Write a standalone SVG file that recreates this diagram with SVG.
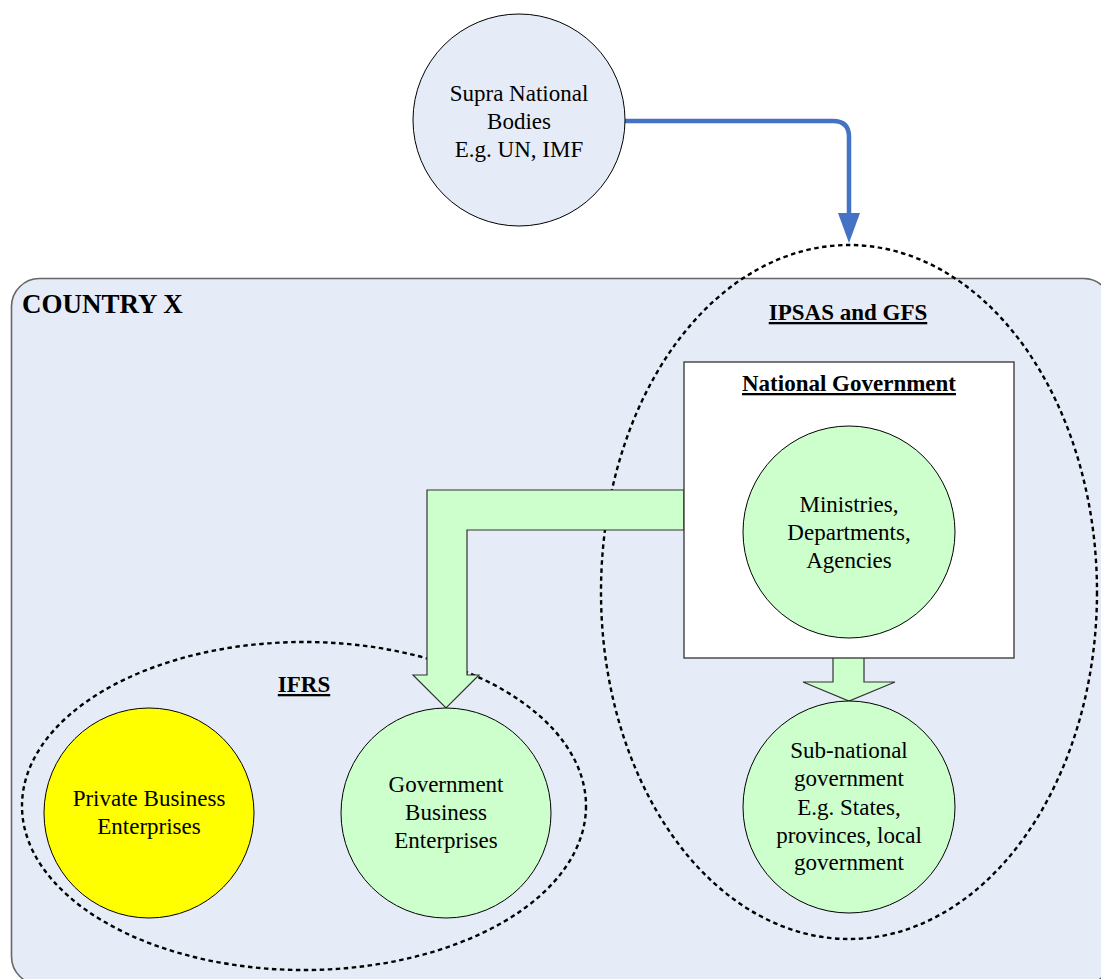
<svg xmlns="http://www.w3.org/2000/svg" width="1101" height="979" viewBox="0 0 1101 979">
  <style>
    .txt { font-family: "Liberation Serif", "Times New Roman", serif; font-size: 23px; fill: #000; text-anchor: middle; }
    .hdr { font-family: "Liberation Serif", "Times New Roman", serif; font-size: 23px; font-weight: bold; text-decoration: underline; fill: #000; text-anchor: middle; }
    .node { stroke: #000; stroke-width: 1; }
    .green { fill: #CCFFCC; }
    .zone { fill: none; stroke: #000; stroke-width: 2.4; stroke-dasharray: 4.5 3.5; }
    .fat { fill: #CCFFCC; stroke: #333; stroke-width: 1.2; }
  </style>

  <rect width="1101" height="979" fill="#FFFFFF"/>

  <!-- country container -->
  <g id="country">
    <rect x="11.5" y="278.5" width="1100" height="706" rx="28" ry="28" fill="#E6ECF7" stroke="#666" stroke-width="1.6"/>
    <text x="22" y="313" style="font-family:'Liberation Serif','Times New Roman',serif;font-size:27px;font-weight:bold;">COUNTRY X</text>
  </g>

  <!-- standards zones -->
  <g id="zone-ipsas">
    <ellipse class="zone" cx="849" cy="592" rx="248" ry="347"/>
    <text class="hdr" x="848" y="320">IPSAS and GFS</text>
  </g>
  <g id="zone-ifrs">
    <ellipse class="zone" cx="304" cy="806" rx="282" ry="164"/>
    <text class="hdr" x="304" y="692">IFRS</text>
  </g>

  <!-- connectors -->
  <g id="connectors">
    <path d="M623,121 L833,121 Q849,121 849,137 L849,213" fill="none" stroke="#4472C4" stroke-width="4.5" stroke-linejoin="round"/>
    <path d="M838,213 L860,213 L849,243 Z" fill="#4472C4"/>
    <path class="fat" d="M684,490 L427,490 L427,675 L413,675 L446,708 L479,675 L467,675 L467,530 L684,530 Z"/>
    <path class="fat" d="M833,655 L833,682 L803,682 L849,701 L895,682 L864,682 L864,655 Z"/>
  </g>

  <!-- supra national bodies -->
  <g id="supra">
    <circle class="node" cx="519" cy="120" r="106" fill="#E6ECF7"/>
    <text class="txt" x="519" y="101">Supra National</text>
    <text class="txt" x="519" y="129">Bodies</text>
    <text class="txt" x="519" y="157">E.g. UN, IMF</text>
  </g>

  <!-- national government -->
  <g id="national">
    <rect x="684" y="362" width="330" height="296" fill="#FFFFFF" stroke="#333" stroke-width="1.3"/>
    <text class="hdr" x="849" y="391">National Government</text>
  </g>
  <g id="ministries">
    <circle class="node green" cx="849" cy="532" r="106"/>
    <text class="txt" x="849" y="512">Ministries,</text>
    <text class="txt" x="849" y="540">Departments,</text>
    <text class="txt" x="849" y="568">Agencies</text>
  </g>
  <g id="subnational">
    <circle class="node green" cx="849" cy="807" r="106"/>
    <text class="txt" x="849" y="758">Sub-national</text>
    <text class="txt" x="849" y="786">government</text>
    <text class="txt" x="849" y="815">E.g. States,</text>
    <text class="txt" x="849" y="843">provinces, local</text>
    <text class="txt" x="849" y="870">government</text>
  </g>

  <!-- business enterprises -->
  <g id="private">
    <circle class="node" cx="149" cy="813" r="105" fill="#FFFF00"/>
    <text class="txt" x="149" y="806">Private Business</text>
    <text class="txt" x="149" y="834">Enterprises</text>
  </g>
  <g id="gbe">
    <circle class="node green" cx="446" cy="813" r="105"/>
    <text class="txt" x="446" y="792">Government</text>
    <text class="txt" x="446" y="820">Business</text>
    <text class="txt" x="446" y="848">Enterprises</text>
  </g>
</svg>
